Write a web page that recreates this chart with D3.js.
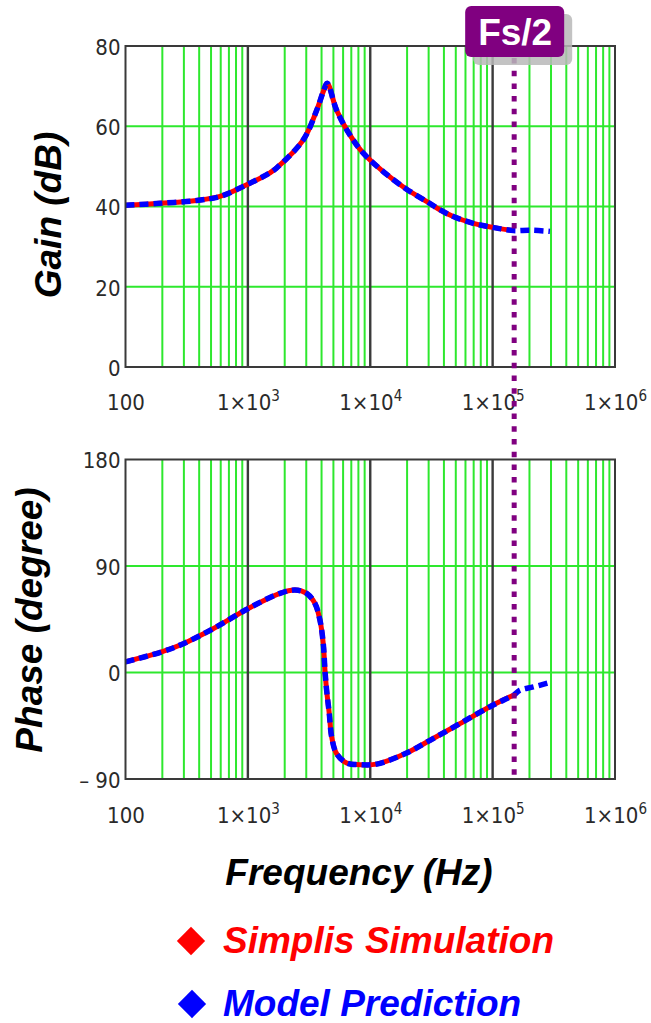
<!DOCTYPE html>
<html>
<head>
<meta charset="utf-8">
<script src="https://cdn.jsdelivr.net/npm/d3@7"></script>
<style>
  html, body { margin: 0; padding: 0; background: #fff; }
  svg { display: block; }
</style>
</head>
<body>
<svg id="chart" width="651" height="1023"></svg>
<script>
// ---------------- data ----------------
const freqTicks = [100, 1e3, 1e4, 1e5, 1e6];
const gainTicks = [0, 20, 40, 60, 80];
const phaseTicks = [-90, 0, 90, 180];
const fsHalf = 150000;

const gainFreqSim = [100,191,382,591,977,1516,1718,2836,3650,4130,4450,5310,6830,8770,12770,19400,29500,37000,47700,69500,100000,148000];
const gainSim     = [40.3,40.8,41.5,42.5,45.4,48.4,49.6,56.6,64.0,68.6,70.7,64.0,57.8,53.3,48.7,44.5,41.1,39.2,37.5,35.8,34.8,34.0];
const gainFreqModel = [100,191,382,591,977,1516,1718,2836,3650,4130,4450,5310,6830,8770,12770,19400,29500,37000,47700,69500,100000,148000,200000,294000];
const gainModel     = [40.3,40.8,41.5,42.5,45.4,48.4,49.6,56.6,64.0,68.6,70.7,64.0,57.8,53.3,48.7,44.5,41.1,39.2,37.5,35.8,34.8,34.0,34.1,33.8];

const phaseFreqSim = [100,197,290,520,1000,1828,2427,3020,3530,3880,4130,4265,4400,4625,4840,5310,6410,8240,11280,19400,30800,54000,100000,148000];
const phaseSim     = [9.0,17.4,23.9,37.0,53.9,66.9,69.7,66.9,58.4,44.3,24.5,1.9,-15.0,-34.7,-54.5,-68.6,-76.5,-77.9,-77.4,-68.5,-57.3,-43.2,-27.7,-19.2];
const phaseFreqModel = [100,197,290,520,1000,1828,2427,3020,3530,3880,4130,4265,4400,4625,4840,5310,6410,8240,11280,19400,30800,54000,100000,148000,167000,215000,285000];
const phaseModel     = [9.0,17.4,23.9,37.0,53.9,66.9,69.7,66.9,58.4,44.3,24.5,1.9,-15.0,-34.7,-54.5,-68.6,-76.5,-77.9,-77.4,-68.5,-57.3,-43.2,-27.7,-19.2,-15.0,-12.2,-8.8];

const legendLabels = ["Simplis Simulation", "Model Prediction"];
const seriesColors = ["#ff0000", "#0000ff"];

// ---------------- layout ----------------
const svg = d3.select("#chart");
const X0 = 125.5, X1 = 615;
const x = d3.scaleLog().domain([100, 1e6]).range([X0, X1]);
const yGain = d3.scaleLinear().domain([0, 80]).range([367, 46]);
const yPhase = d3.scaleLinear().domain([-90, 180]).range([779, 459.5]);

const tickFont = "'Liberation Sans Narrow','DejaVu Sans Condensed','Liberation Sans',sans-serif";
const titleFont = "Arial,'Liberation Sans',sans-serif";

const minorFreqs = [];
for (let d = 100; d < 1e6; d *= 10) for (let k = 2; k <= 9; k++) minorFreqs.push(d * k);

function panel(y, yTicks, gridVals, tickFmt, labelBaseline) {
  const g = svg.append("g");
  const [yb, yt] = y.range();
  g.append("rect").attr("x", X0).attr("y", yt).attr("width", X1 - X0).attr("height", yb - yt).attr("fill", "#fff");
  g.selectAll(".vmin").data(minorFreqs).enter().append("line")
    .attr("x1", d => x(d)).attr("x2", d => x(d)).attr("y1", yt).attr("y2", yb)
    .attr("stroke", "#2ee82e").attr("stroke-width", 2);
  g.selectAll(".hg").data(gridVals).enter().append("line")
    .attr("x1", X0).attr("x2", X1).attr("y1", d => y(d)).attr("y2", d => y(d))
    .attr("stroke", "#2ee82e").attr("stroke-width", 2);
  g.selectAll(".vmaj").data([1e3, 1e4, 1e5]).enter().append("line")
    .attr("x1", d => x(d)).attr("x2", d => x(d)).attr("y1", yt).attr("y2", yb)
    .attr("stroke", "#3a3a3a").attr("stroke-width", 2.4);

  const ya = g.append("g").attr("transform", `translate(${X0},0)`)
    .call(d3.axisLeft(y).tickValues(yTicks).tickSize(0).tickPadding(5).tickFormat(tickFmt));
  ya.select(".domain").remove();
  ya.selectAll("text").attr("font-family", tickFont).attr("font-size", 22).attr("fill", "#2a2a2a").attr("dy", "0.38em");

  const xa = g.append("g").attr("transform", `translate(0,${labelBaseline})`)
    .call(d3.axisBottom(x).tickValues(freqTicks).tickSize(0).tickPadding(0));
  xa.select(".domain").remove();
  xa.selectAll("text").each(function (d) {
    const t = d3.select(this).text("").attr("dy", 0).attr("y", 0)
      .attr("font-family", tickFont).attr("font-size", 22).attr("fill", "#2a2a2a");
    if (d === 100) { t.text("100"); }
    else {
      const e = Math.round(Math.log10(d));
      t.append("tspan").text("1\u00d710");
      t.append("tspan").attr("dy", -9).attr("font-size", 15).text(e);
    }
  });
  return g;
}

const gGain = panel(yGain, gainTicks, [20, 40, 60], d => String(d), 410);
const gPhase = panel(yPhase, phaseTicks, [0, 90], d => d < 0 ? "\u2013 " + Math.abs(d) : String(d), 823);

function drawCurves(g, y, fs, vs, fm, vm) {
  const line = d3.line().x(d => x(d[0])).y(d => y(d[1])).curve(d3.curveCatmullRom.alpha(0.5));
  g.append("path").datum(d3.zip(fs, vs)).attr("d", line)
    .attr("fill", "none").attr("stroke", seriesColors[0]).attr("stroke-width", 5).attr("stroke-linejoin", "round");
  g.append("path").datum(d3.zip(fm, vm)).attr("d", line)
    .attr("fill", "none").attr("stroke", seriesColors[1]).attr("stroke-width", 5.5)
    .attr("stroke-dasharray", "9,5");
}
drawCurves(gGain, yGain, gainFreqSim, gainSim, gainFreqModel, gainModel);
drawCurves(gPhase, yPhase, phaseFreqSim, phaseSim, phaseFreqModel, phaseModel);

[yGain, yPhase].forEach(y => {
  const [yb, yt] = y.range();
  svg.append("rect").attr("x", X0).attr("y", yt).attr("width", X1 - X0).attr("height", yb - yt)
    .attr("fill", "none").attr("stroke", "#3a3a3a").attr("stroke-width", 2);
});

// Fs/2 dotted marker
const fx = x(fsHalf);
svg.append("line").attr("x1", fx).attr("x2", fx).attr("y1", 58).attr("y2", yPhase(-90))
  .attr("stroke", "#800080").attr("stroke-width", 5).attr("stroke-dasharray", "5.5,7.2");

svg.append("rect").attr("x", fx - 41).attr("y", 14).attr("width", 99).attr("height", 51).attr("rx", 6)
  .attr("fill", "#b8b8b8").attr("opacity", 0.85);
svg.append("rect").attr("x", fx - 49).attr("y", 6).attr("width", 99).attr("height", 51).attr("rx", 6)
  .attr("fill", "#800080");
svg.append("text").attr("x", fx + 1).attr("y", 45).attr("text-anchor", "middle")
  .attr("font-family", titleFont).attr("font-weight", "bold").attr("font-size", 37).attr("fill", "#fff")
  .text("Fs/2");

// axis titles
svg.append("text").attr("transform", "translate(61,215) rotate(-90)").attr("text-anchor", "middle")
  .attr("font-family", titleFont).attr("font-weight", "bold").attr("font-style", "italic")
  .attr("font-size", 37).attr("fill", "#000").text("Gain (dB)");
svg.append("text").attr("transform", "translate(42,620) rotate(-90)").attr("text-anchor", "middle")
  .attr("font-family", titleFont).attr("font-weight", "bold").attr("font-style", "italic")
  .attr("font-size", 37).attr("fill", "#000").text("Phase (degree)");
svg.append("text").attr("x", 359).attr("y", 885).attr("text-anchor", "middle")
  .attr("font-family", titleFont).attr("font-weight", "bold").attr("font-style", "italic")
  .attr("font-size", 37).attr("fill", "#000").text("Frequency (Hz)");

// legend
const legend = svg.append("g");
const legY = [941, 1004];
legendLabels.forEach((lab, i) => {
  legend.append("path")
    .attr("d", d3.symbol().type(d3.symbolSquare).size(400))
    .attr("transform", `translate(${191 + i},${legY[i]}) rotate(45)`)
    .attr("fill", seriesColors[i]);
  legend.append("text").attr("x", 223).attr("y", legY[i] + 12)
    .attr("font-family", titleFont).attr("font-weight", "bold").attr("font-style", "italic")
    .attr("font-size", 37).attr("fill", seriesColors[i]).text(lab);
});
</script>
</body>
</html>
